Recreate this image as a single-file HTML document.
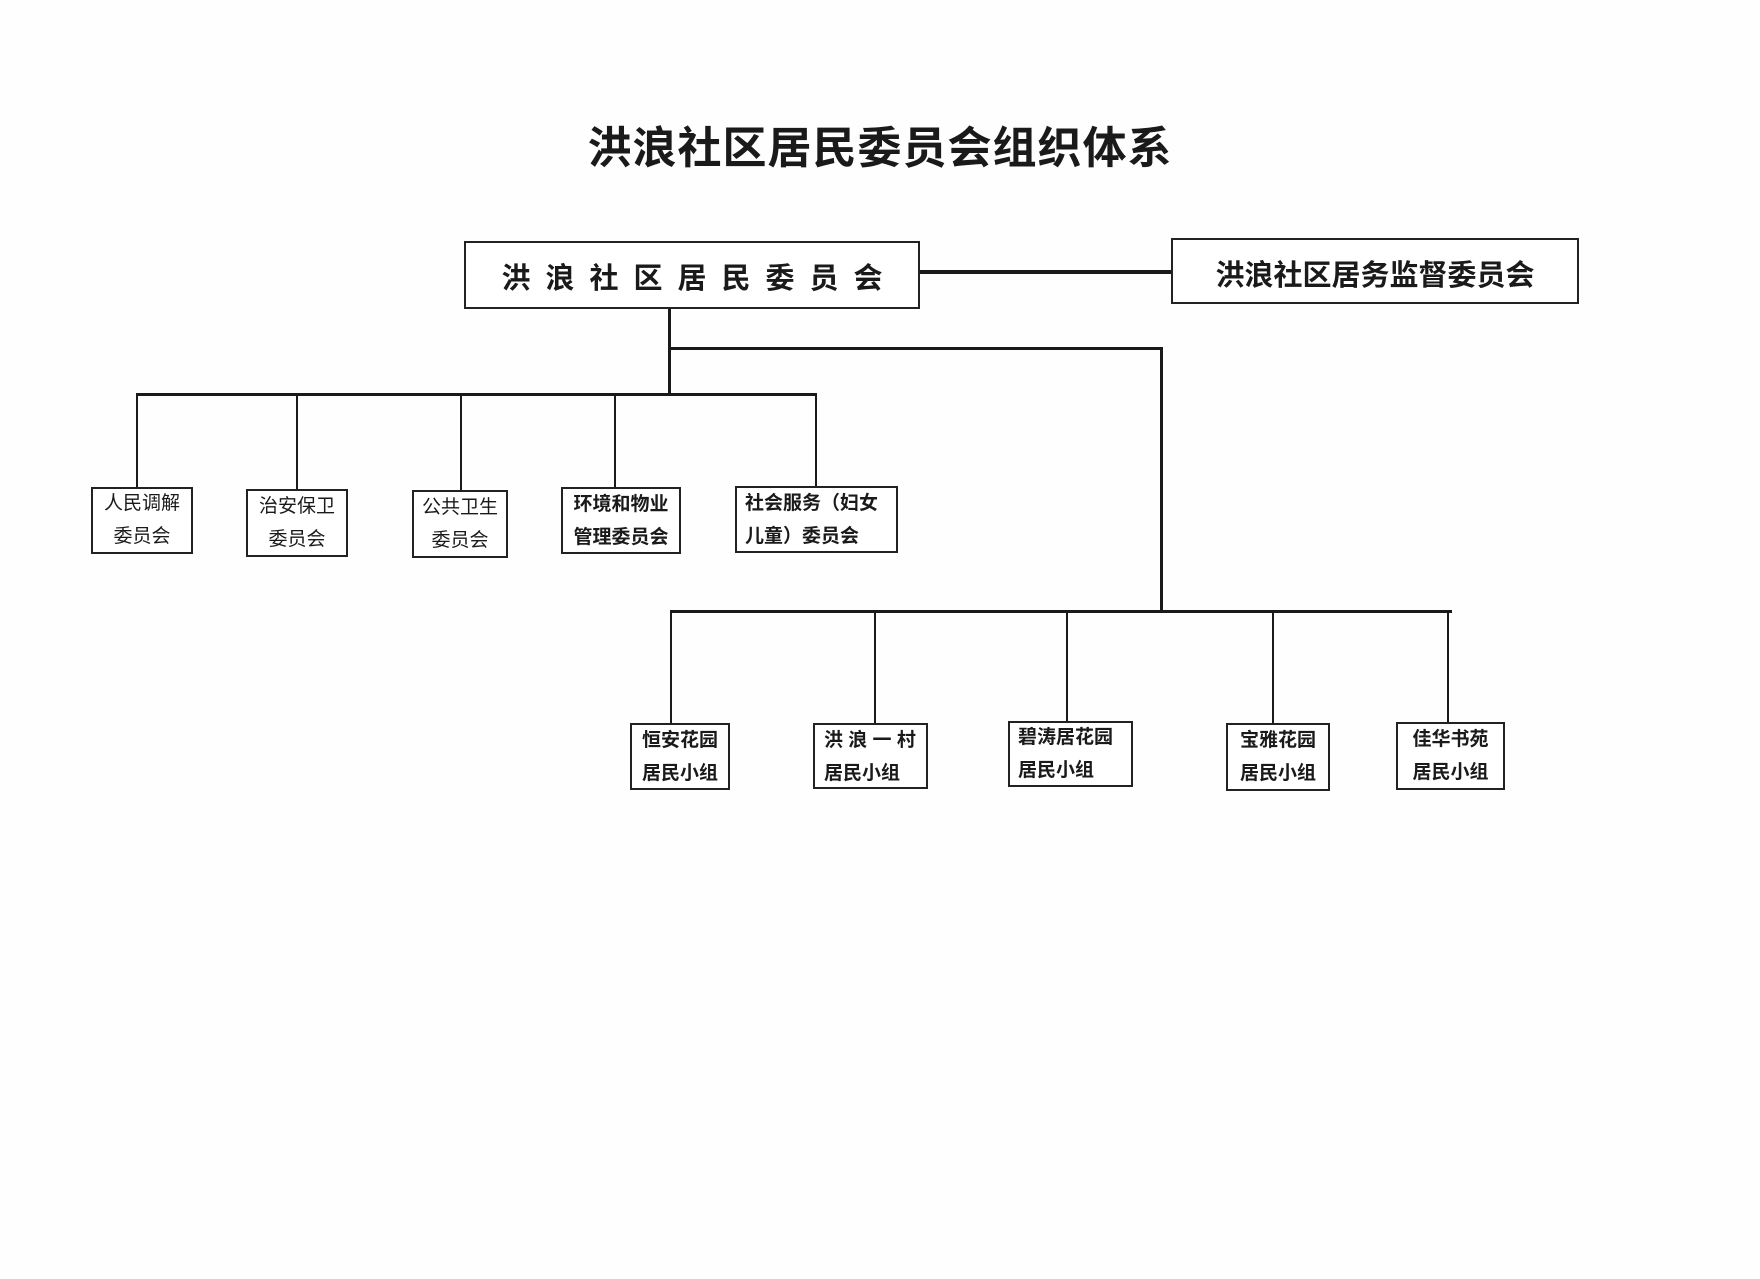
<!DOCTYPE html>
<html><head><meta charset="utf-8"><style>
body{margin:0;background:#fff;}
#c{position:relative;width:1760px;height:1279px;overflow:hidden;background:#fefefe;font-family:"Liberation Sans","Noto Sans CJK SC",sans-serif;color:#1a1a1a;}
.b{position:absolute;border:2px solid #222;box-sizing:border-box;background:#fff;}
.l{position:absolute;background:#1a1a1a;}
.t{position:absolute;font-size:19px;line-height:33px;font-weight:bold;white-space:nowrap;}
</style></head><body><div id="c">
<div style="position:absolute;left:560px;top:112px;width:640px;text-align:center;font-size:44px;font-weight:bold;font-family:'Noto Sans CJK SC',sans-serif;letter-spacing:1px;">洪浪社区居民委员会组织体系</div>

<div class="b" style="left:464px;top:241px;width:456px;height:68px;"></div>
<div style="position:absolute;left:464px;top:255px;width:456px;text-align:center;font-size:29px;font-weight:bold;letter-spacing:15px;text-indent:15px;">洪浪社区居民委员会</div>
<div class="b" style="left:1171px;top:238px;width:408px;height:66px;"></div>
<div style="position:absolute;left:1171px;top:252px;width:408px;text-align:center;font-size:29px;font-weight:bold;">洪浪社区居务监督委员会</div>

<div class="l" style="left:920px;top:270px;width:251px;height:4px;"></div>
<div class="l" style="left:668px;top:309px;width:3px;height:87px;"></div>
<div class="l" style="left:668px;top:347px;width:495px;height:3px;"></div>
<div class="l" style="left:1160px;top:347px;width:3px;height:266px;"></div>
<div class="l" style="left:136px;top:393px;width:681px;height:3px;"></div>
<div class="l" style="left:670px;top:610px;width:782px;height:3px;"></div>

<div class="l" style="left:136px;top:394px;width:2px;height:94px;"></div>
<div class="l" style="left:296px;top:394px;width:2px;height:96px;"></div>
<div class="l" style="left:460px;top:394px;width:2px;height:97px;"></div>
<div class="l" style="left:614px;top:394px;width:2px;height:94px;"></div>
<div class="l" style="left:815px;top:394px;width:2px;height:93px;"></div>

<div class="b" style="left:91px;top:487px;width:102px;height:67px;"></div>
<div class="t" style="left:91px;top:487px;width:102px;text-align:center;font-weight:normal;">人民调解<br>委员会</div>
<div class="b" style="left:246px;top:489px;width:102px;height:68px;"></div>
<div class="t" style="left:246px;top:490px;width:102px;text-align:center;font-weight:normal;">治安保卫<br>委员会</div>
<div class="b" style="left:412px;top:490px;width:96px;height:68px;"></div>
<div class="t" style="left:412px;top:491px;width:96px;text-align:center;font-weight:normal;">公共卫生<br>委员会</div>
<div class="b" style="left:561px;top:487px;width:120px;height:67px;"></div>
<div class="t" style="left:561px;top:488px;width:120px;text-align:center;">环境和物业<br>管理委员会</div>
<div class="b" style="left:735px;top:486px;width:163px;height:67px;"></div>
<div class="t" style="left:745px;top:487px;">社会服务（妇女<br>儿童）委员会</div>

<div class="l" style="left:670px;top:611px;width:2px;height:112px;"></div>
<div class="l" style="left:874px;top:611px;width:2px;height:112px;"></div>
<div class="l" style="left:1066px;top:611px;width:2px;height:110px;"></div>
<div class="l" style="left:1272px;top:611px;width:2px;height:112px;"></div>
<div class="l" style="left:1447px;top:611px;width:2px;height:111px;"></div>

<div class="b" style="left:630px;top:723px;width:100px;height:67px;"></div>
<div class="t" style="left:630px;top:724px;width:100px;text-align:center;">恒安花园<br>居民小组</div>
<div class="b" style="left:813px;top:723px;width:115px;height:66px;"></div>
<div class="t" style="left:824px;top:724px;">洪 浪 一 村<br>居民小组</div>
<div class="b" style="left:1008px;top:721px;width:125px;height:66px;"></div>
<div class="t" style="left:1018px;top:721px;">碧涛居花园<br>居民小组</div>
<div class="b" style="left:1226px;top:723px;width:104px;height:68px;"></div>
<div class="t" style="left:1226px;top:724px;width:104px;text-align:center;">宝雅花园<br>居民小组</div>
<div class="b" style="left:1396px;top:722px;width:109px;height:68px;"></div>
<div class="t" style="left:1396px;top:723px;width:109px;text-align:center;">佳华书苑<br>居民小组</div>
</div></body></html>
